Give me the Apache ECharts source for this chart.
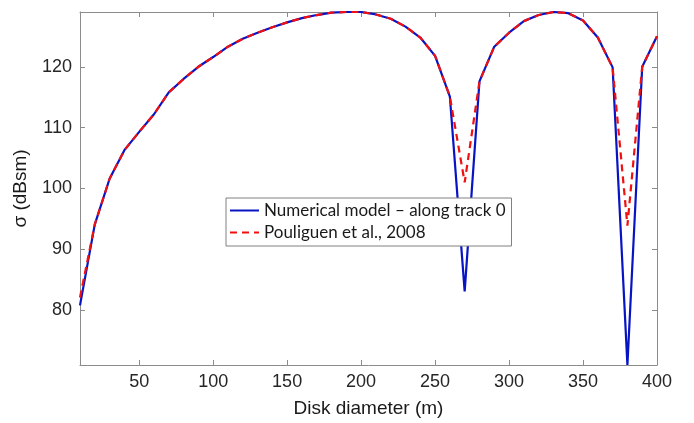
<!DOCTYPE html>
<html>
<head>
<meta charset="utf-8">
<script src="https://cdn.jsdelivr.net/npm/echarts@6/dist/echarts.min.js"></script>
<style>html,body{margin:0;padding:0;background:#fff}#c{width:694px;height:423px}</style>
</head>
<body>
<div id="c"></div>
<script>
// Disk diameter (m)
const diameters = [10,20,30,40,50,60,70,80,90,100,110,120,130,140,150,160,170,180,190,200,210,220,230,240,250,260,270,280,290,300,310,320,330,340,350,360,370,380,390,400];
// Numerical model – along track 0 (dBsm)
const numericalModel = [80.8,94.1,101.6,106.3,109.3,112.2,115.8,118.0,120.0,121.6,123.3,124.6,125.6,126.5,127.3,128.0,128.5,128.9,129.0,129.0,128.6,127.9,126.6,124.8,121.8,115.1,83.1,117.6,123.3,125.6,127.5,128.5,129.0,128.8,127.6,124.8,119.9,71.0,120.0,125.0];
// Pouliguen et al., 2008 (dBsm)
const pouliguen = [82.1,94.1,101.6,106.3,109.3,112.2,115.8,118.0,120.0,121.6,123.3,124.6,125.6,126.5,127.3,128.0,128.5,128.9,129.0,129.0,128.6,127.9,126.6,124.8,121.8,115.1,101.0,117.6,123.3,125.6,127.5,128.5,129.0,128.8,127.6,124.8,119.9,93.9,120.0,125.0];
const xTicks = [50,100,150,200,250,300,350,400];
const yTicks = [80,90,100,110,120];

const pair = (xs, ys) => xs.map((x, i) => [x, ys[i]]);
const axisColor = '#8c8c8c';
const sans = "'Liberation Sans', Arial, sans-serif";
const xBase = {
  type: 'value', min: 10, max: 400,
  axisLine: { show: true, onZero: false, lineStyle: { color: axisColor, width: 1 } },
  splitLine: { show: false }
};
const yBase = {
  type: 'value', min: 71, max: 129,
  axisLine: { show: true, onZero: false, lineStyle: { color: axisColor, width: 1 } },
  splitLine: { show: false }
};
const chart = echarts.init(document.getElementById('c'), null, { renderer: 'canvas' });
chart.setOption({
  animation: false,
  backgroundColor: '#fff',
  grid: { left: 80, right: 37, top: 12, bottom: 49 },
  xAxis: [
    Object.assign({}, xBase, {
      position: 'bottom',
      name: 'Disk diameter (m)', nameLocation: 'middle', nameGap: 34,
      nameTextStyle: { fontFamily: sans, fontSize: 19, color: '#1a1a1a' },
      axisTick: { show: true, inside: true, length: 5, customValues: xTicks, lineStyle: { color: axisColor } },
      axisLabel: { show: true, customValues: xTicks, margin: 8, fontFamily: sans, fontSize: 18, color: '#262626' }
    }),
    Object.assign({}, xBase, {
      position: 'top',
      axisTick: { show: true, inside: true, length: 5, customValues: xTicks, lineStyle: { color: axisColor } },
      axisLabel: { show: false }
    })
  ],
  yAxis: [
    Object.assign({}, yBase, {
      position: 'left',
      name: 'σ (dBsm)', nameLocation: 'middle', nameGap: 50, nameRotate: 90,
      nameTextStyle: { fontFamily: sans, fontSize: 19, color: '#1a1a1a' },
      axisTick: { show: true, inside: true, length: 5, customValues: yTicks, lineStyle: { color: axisColor } },
      axisLabel: { show: true, customValues: yTicks, margin: 8, fontFamily: sans, fontSize: 18, color: '#262626' }
    }),
    Object.assign({}, yBase, {
      position: 'right',
      axisTick: { show: true, inside: true, length: 5, customValues: yTicks, lineStyle: { color: axisColor } },
      axisLabel: { show: false }
    })
  ],
  legend: {
    orient: 'vertical', left: 226, top: 198,
    backgroundColor: '#fff', borderColor: '#808080', borderWidth: 1, borderRadius: 0,
    padding: [4, 6, 5, 3], itemGap: 5, itemWidth: 29, itemHeight: 14,
    itemStyle: { opacity: 0 },
    textStyle: { fontFamily: 'Lato', fontSize: 17, color: '#1a1a1a' },
    data: ['Numerical model – along track 0', 'Pouliguen et al., 2008']
  },
  series: [
    {
      name: 'Numerical model – along track 0', type: 'line', xAxisIndex: 0, yAxisIndex: 0,
      data: pair(diameters, numericalModel), symbol: 'none', showSymbol: false,
      lineStyle: { color: '#0814c4', width: 2.2 }, itemStyle: { color: '#0814c4' }
    },
    {
      name: 'Pouliguen et al., 2008', type: 'line', xAxisIndex: 0, yAxisIndex: 0,
      data: pair(diameters, pouliguen), symbol: 'none', showSymbol: false,
      lineStyle: { color: '#f01010', width: 2.2, type: [7, 5] }, itemStyle: { color: '#f01010' }
    }
  ]
});
</script>
</body>
</html>
